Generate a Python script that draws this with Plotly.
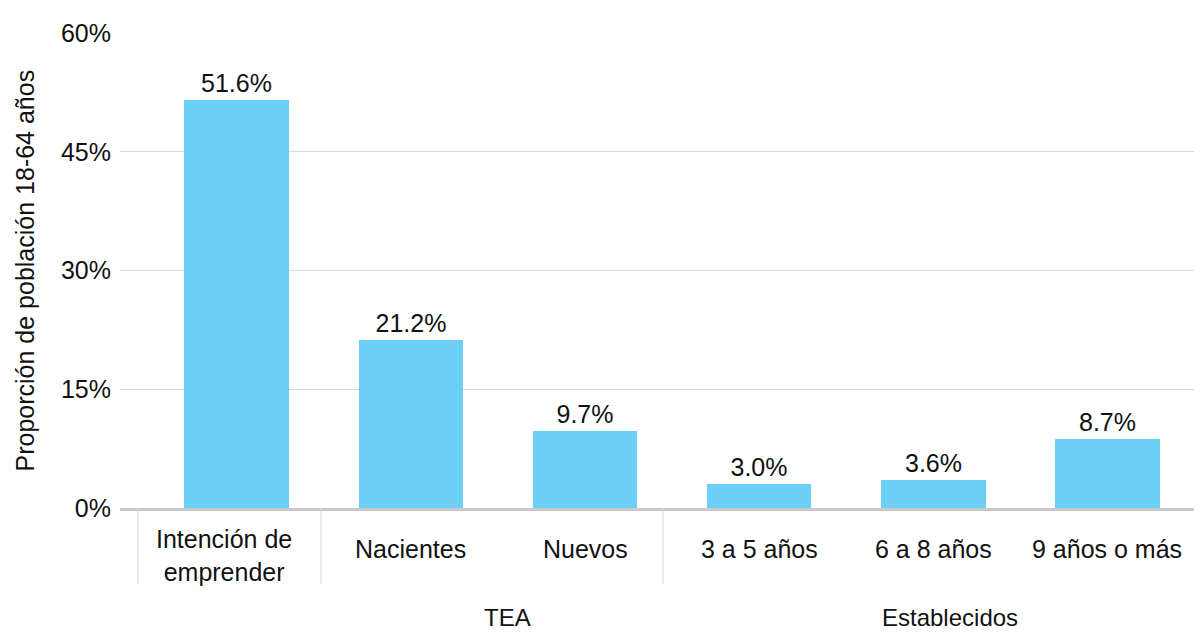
import plotly.graph_objects as go

categories = ["Intención de<br>emprender", "Nacientes", "Nuevos", "3 a 5 años", "6 a 8 años", "9 años o más"]
values = [51.6, 21.2, 9.7, 3.0, 3.6, 8.7]
value_labels = ["51.6%", "21.2%", "9.7%", "3.0%", "3.6%", "8.7%"]
group_names = ["TEA", "Establecidos"]
y_ticks = [0, 15, 30, 45, 60]
y_tick_labels = ["0%", "15%", "30%", "45%", "60%"]

FONT = "Liberation Sans, Arial, sans-serif"
FS = 25
idx = list(range(len(categories)))

fig = go.Figure()
fig.add_trace(go.Bar(
    x=idx, y=values, width=0.603,
    marker=dict(color="#6ccff6", line=dict(width=0)),
    text=value_labels, textposition="outside",
    textfont=dict(family=FONT, size=FS, color="#111111"),
    cliponaxis=False, hoverinfo="skip",
))

# category labels
for i, c in enumerate(categories):
    two = "<br>" in c
    fig.add_annotation(
        x=i, y=(508 - (555 if two else 549)) / 475, xref="x", yref="paper",
        text=c, showarrow=False, xanchor="center", yanchor="middle",
        xshift=-13 if two else 0,
        font=dict(family=FONT, size=FS, color="#111111"),
    )

# group labels
for gx, g in zip([1.552, 4.098], group_names):
    fig.add_annotation(
        x=gx, y=(508 - 617) / 475, xref="x", yref="paper",
        text=g, showarrow=False, xanchor="center", yanchor="middle",
        borderpad=0,
        font=dict(family=FONT, size=24, color="#111111"),
    )

# dividers
for dx in [-0.569, 0.483, 2.448, 5.511]:
    fig.add_shape(type="line", xref="x", yref="paper", x0=dx, x1=dx,
                  y0=0, y1=(508 - 584) / 475,
                  line=dict(color="#d6d6d6", width=1))

# y title
fig.add_annotation(
    x=(16 - 112) / 1080, y=0.5, xref="paper", yref="paper",
    text="Proporción de población 18-64 años", textangle=-90,
    showarrow=False, xanchor="center", yanchor="middle", borderpad=0,
    font=dict(family=FONT, size=FS, color="#111111"),
)

fig.update_layout(
    width=1194, height=626,
    margin=dict(l=112, r=2, t=25, b=126),
    paper_bgcolor="white", plot_bgcolor="white",
    showlegend=False,
    xaxis=dict(range=[-0.672, 5.534], showticklabels=False, showgrid=False,
               zeroline=False, showline=True, linecolor="#c8c8c8", linewidth=2.5,
               ticks=""),
    yaxis=dict(range=[0, 60], tickvals=y_ticks, ticktext=y_tick_labels,
               showgrid=True, gridcolor="#d9d9d9", gridwidth=1,
               zeroline=False, showline=False, ticks="",
               ticklabelstandoff=8,
               tickfont=dict(family=FONT, size=FS, color="#111111")),
    bargap=0,
)

fig.write_html("out.html")
